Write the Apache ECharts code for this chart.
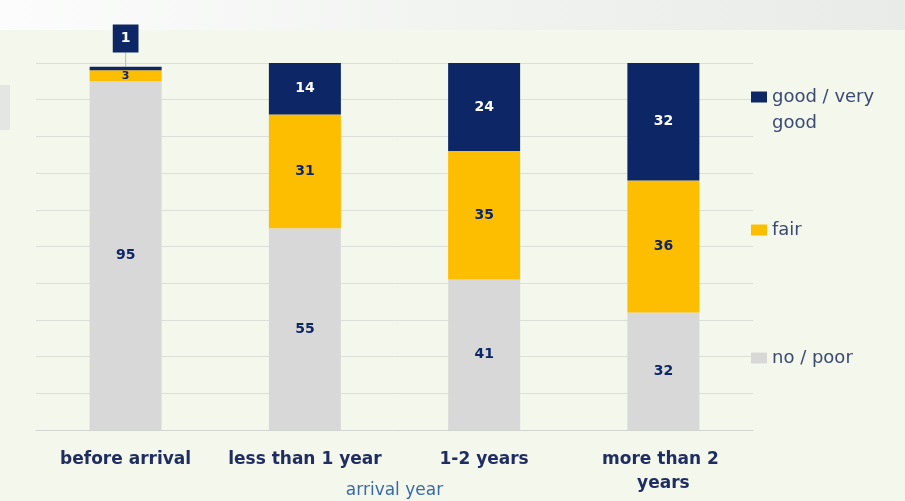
<!DOCTYPE html>
<html>
<head>
<meta charset="utf-8">
<script src="https://cdn.jsdelivr.net/npm/echarts@6/dist/echarts.min.js"></script>
<style>
  html, body { margin: 0; padding: 0; background: #f3f7ec; }
  #chart { width: 905px; height: 501px; }
</style>
</head>
<body>
<div id="chart"></div>
<script>
const categories = ['before arrival', 'less than 1 year', '1-2 years', 'more than 2 years']
const poor = [95, 55, 41, 32]
const fair = [3, 31, 35, 36]
const good = [1, 14, 24, 32]
const names = ['no / poor', 'fair', 'good / very good']

const navy = '#0d2766'
const yellow = '#fdbe00'
const grey = '#d8d8d8'
const font = 'DejaVu Sans'

const chart = echarts.init(document.getElementById('chart'))

const legendText = { color: '#3b4a72', fontSize: 18, fontFamily: font, lineHeight: 26 }

const option = {
    backgroundColor: '#f3f7ec',
    animation: false,
    graphic: [
        {
            type: 'rect', left: 0, top: 0, z: -1,
            shape: { width: 905, height: 30 },
            style: {
                fill: new echarts.graphic.LinearGradient(0, 0, 1, 0, [
                    { offset: 0, color: '#fbfcfb' },
                    { offset: 1, color: '#e8ebe8' }
                ])
            }
        },
        {
            type: 'rect', left: 0, top: 85, z: -1,
            shape: { width: 10, height: 45 },
            style: { fill: '#e4e6e3' }
        }
    ],
    grid: { left: 36, right: 152, top: 63, bottom: 71, containLabel: false, outerBoundsMode: 'none' },
    legend: [
        {
            data: [names[2]], orient: 'vertical', left: 751, top: 58, padding: 0,
            itemWidth: 16, itemHeight: 11, icon: 'rect',
            formatter: () => ' \ngood / very\ngood',
            textStyle: legendText
        },
        {
            data: [names[1]], orient: 'vertical', left: 751, top: 217, padding: 0,
            itemWidth: 16, itemHeight: 11, icon: 'rect',
            textStyle: legendText
        },
        {
            data: [names[0]], orient: 'vertical', left: 751, top: 345, padding: 0,
            itemWidth: 16, itemHeight: 11, icon: 'rect',
            textStyle: legendText
        }
    ],
    xAxis: {
        type: 'category',
        data: categories,
        name: 'arrival year',
        nameLocation: 'middle',
        nameGap: 52,
        nameMoveOverlap: false,
        nameTextStyle: { color: '#3a6aa8', fontSize: 17, fontFamily: font },
        axisLine: { lineStyle: { color: '#d2d4d0' } },
        axisTick: { show: false },
        axisLabel: {
            interval: 0,
            color: '#1f2d60', fontSize: 17, fontWeight: 'bold', fontFamily: font,
            margin: 18, width: 160, overflow: 'break', lineHeight: 24
        }
    },
    yAxis: {
        type: 'value',
        min: 0, max: 100, interval: 10,
        axisLabel: { show: false },
        axisLine: { show: false },
        axisTick: { show: false },
        splitLine: { lineStyle: { color: '#dcdfd8' } }
    },
    series: [
        {
            name: names[0], type: 'bar', stack: 'a', barWidth: 72,
            itemStyle: { color: grey },
            label: { show: true, color: navy, fontSize: 14, fontWeight: 'bold', fontFamily: font },
            data: poor
        },
        {
            name: names[1], type: 'bar', stack: 'a', barWidth: 72,
            itemStyle: { color: yellow },
            label: { show: true, color: navy, fontSize: 14, fontWeight: 'bold', fontFamily: font },
            data: fair.map((v, i) => i === 0
                ? { value: v, label: { fontSize: 11 } }
                : v)
        },
        {
            name: names[2], type: 'bar', stack: 'a', barWidth: 72,
            itemStyle: { color: navy },
            label: { show: true, color: '#ffffff', fontSize: 14, fontWeight: 'bold', fontFamily: font },
            labelLayout: p => p.dataIndex === 0 ? { dy: -30 } : {},
            labelLine: { show: true, lineStyle: { color: '#b9bdb8', width: 1 } },
            data: good.map((v, i) => i === 0
                ? { value: v, label: { backgroundColor: navy, padding: [7, 8] } }
                : v)
        }
    ]
}

chart.setOption(option)
</script>
</body>
</html>
